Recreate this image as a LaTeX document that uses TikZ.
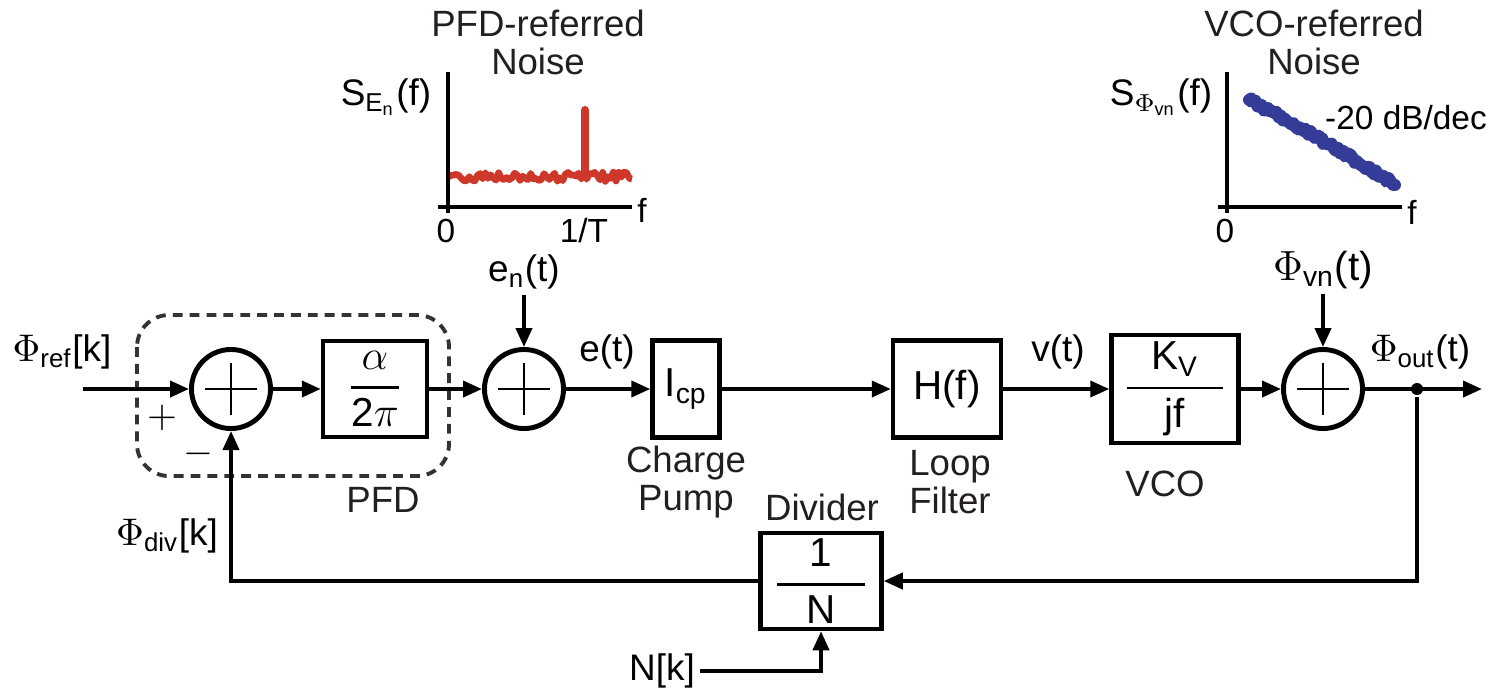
\documentclass[tikz,border=0pt]{standalone}
\usepackage{amsmath}
\usepackage{fontspec}
\setmainfont{Liberation Sans}
\usetikzlibrary{arrows.meta}
\definecolor{noisered}{RGB}{206,56,42}
\definecolor{noiseblue}{RGB}{52,60,152}
\definecolor{ink}{RGB}{35,31,32}

\begin{document}
\begin{tikzpicture}[
    x=0.01cm, y=-0.01cm,
    line width=1.1pt,
    >={Triangle[length=1.9mm,width=1.6mm]},
    blk/.style={draw, line width=1.25pt, inner sep=0pt, font=\fontsize{11.5}{13}\selectfont},
    sum/.style={circle, draw, line width=1.4pt, minimum size=7.9mm, inner sep=0pt,
        path picture={
            \draw[line width=0.6pt] ([xshift=-2.6mm]path picture bounding box.center) -- ([xshift=2.6mm]path picture bounding box.center);
            \draw[line width=0.6pt] ([yshift=-2.6mm]path picture bounding box.center) -- ([yshift=2.6mm]path picture bounding box.center);}},
    sig/.style={font=\fontsize{10.5}{12}\selectfont, inner sep=1pt},
    lbl/.style={font=\fontsize{10.4}{10.6}\selectfont, align=center, text=ink},
    ttl/.style={font=\fontsize{10.4}{10.8}\selectfont, align=center, text=ink},
    axlbl/.style={font=\fontsize{9.5}{10}\selectfont, inner sep=1pt},
    ax/.style={line width=0.9pt},
    pfdbox/.style={draw=black!80, dash pattern=on 2.8pt off 2pt, rounded corners=3.2mm}
  ]
  \useasboundingbox (0,0) rectangle (1491,690);

  % --- PFD-referred noise plot ---
  \node[ttl] (pfdttl) at (538,42) {PFD-referred\\Noise};
  \node[axlbl, font=\fontsize{10.5}{11}\selectfont] (pfdy) at (386,97) {S\textsubscript{E\textsubscript{n}}(f)};
  \pgfmathsetseed{11}
  \draw[noisered, line width=1.9pt, line join=round]
    plot[domain=448:632, samples=70] (\x,{177+5*rand});
  \draw[noisered, line width=2.3pt, line cap=round] (585,177) -- (585,110);
  \draw[ax] (448,72) -- (448,213);
  \draw[ax] (438,207) -- (632,207);
  \node[axlbl] (pfdf) at (642,210) {f};
  \node[axlbl] (pfd0) at (446,231) {0};
  \node[axlbl] (pfdT) at (584,231) {1/T};

  % --- VCO-referred noise plot ---
  \node[ttl] (vcottl) at (1314,42) {VCO-referred\\Noise};
  \node[axlbl, font=\fontsize{10.5}{11}\selectfont] (vcoy) at (1161,97) {S\textsubscript{$\Phi$\textsubscript{vn}}(f)};
  \node[axlbl] (slope) at (1406,118) {-20 dB/dec};
  \pgfmathsetseed{5}
  \draw[noiseblue, line width=3.4pt, line join=round, line cap=round]
    plot[domain=1249:1395, samples=70]
    (\x,{100+85*(\x-1249)/146-8*((\x-1249)/146)*(1-(\x-1249)/146)+3*rand});
  \draw[noiseblue, line width=2.4pt, line join=round, line cap=round]
    plot[domain=1250:1394, samples=50]
    (\x,{100+85*(\x-1249)/146-8*((\x-1249)/146)*(1-(\x-1249)/146)+4.5*rand});
  \draw[ax] (1227,72) -- (1227,213);
  \draw[ax] (1218,207) -- (1402,207);
  \node[axlbl] (vcof) at (1412,212) {f};
  \node[axlbl] (vco0) at (1225,231) {0};

  % --- loop blocks ---
  \draw[pfdbox] (137,315) rectangle (449,476);
  \node[sum] (s1) at (231,389) {};
  \node[blk, minimum width=10.4mm, minimum height=9.6mm] (pfd) at (375,389)
    {$\genfrac{}{}{0.8pt}{0}{\alpha}{\mbox{2}\pi}$};
  \node[sum] (s2) at (524,389) {};
  \node[blk, minimum width=6.7mm, minimum height=9.7mm] (cp) at (686,389) {I\textsubscript{cp}};
  \node[blk, minimum width=10.8mm, minimum height=9.7mm] (lf) at (947,389) {H(f)};
  \node[blk, minimum width=12.7mm, minimum height=10.8mm] (vco) at (1175,389)
    {$\genfrac{}{}{0.8pt}{0}{\makebox[9.6mm]{K\textsubscript{V}}}{\mbox{jf}}$};
  \node[sum] (s3) at (1323,389) {};
  \node[blk, minimum width=12.1mm, minimum height=9.6mm] (div) at (821,581)
    {$\genfrac{}{}{0.8pt}{0}{\makebox[8.8mm]{1}}{\mbox{N}}$};
  \node[circle, fill, inner sep=0pt, minimum size=1.2mm] (tap) at (1417,389) {};
  \coordinate (in) at (83,389);
  \coordinate (out) at (1482,389);

  % --- signal labels ---
  \node[sig] (phiref) at (62,352) {$\Phi$\textsubscript{ref}[k]};
  \node[sig] (phidiv) at (167,536) {$\Phi$\textsubscript{div}[k]};
  \node[sig] (et) at (607,352) {e(t)};
  \node[sig] (vt) at (1058,352) {v(t)};
  \node[sig] (phiout) at (1420,352) {$\Phi$\textsubscript{out}(t)};
  \node[sig] (en) at (524,272) {e\textsubscript{n}(t)};
  \node[sig, font=\fontsize{11.5}{12}\selectfont] (pvn) at (1323,270) {$\Phi$\textsubscript{vn}(t)};
  \node[sig] (nk) at (662,671) {N[k]};
  \node[sig] (plus) at (162,418) {$+$};
  \node[sig] (minus) at (198,454) {$-$};

  % --- block names ---
  \node[lbl] (pfdname) at (383,500) {PFD};
  \node[lbl] (cpname) at (686,482) {Charge\\Pump};
  \node[lbl] (lfname) at (950,482) {Loop\\Filter};
  \node[lbl] (vconame) at (1165,484) {VCO};
  \node[lbl] (divname) at (822,507) {Divider};

  % --- connectors ---
  \draw[->] (in) -- (s1);
  \draw[->] (s1) -- (pfd);
  \draw[->] (pfd) -- (s2);
  \draw[->] (s2) -- (cp);
  \draw[->] (cp) -- (lf);
  \draw[->] (lf) -- (vco);
  \draw[->] (vco) -- (s3);
  \draw[->] (s3) -- (out);
  \draw[->] (en) -- (s2);
  \draw[->] (pvn) -- (s3);
  \draw[->] (tap) |- (div);
  \draw[->] (div) -| (s1);
  \draw[->] (nk) -| (div);
\end{tikzpicture}
\end{document}
